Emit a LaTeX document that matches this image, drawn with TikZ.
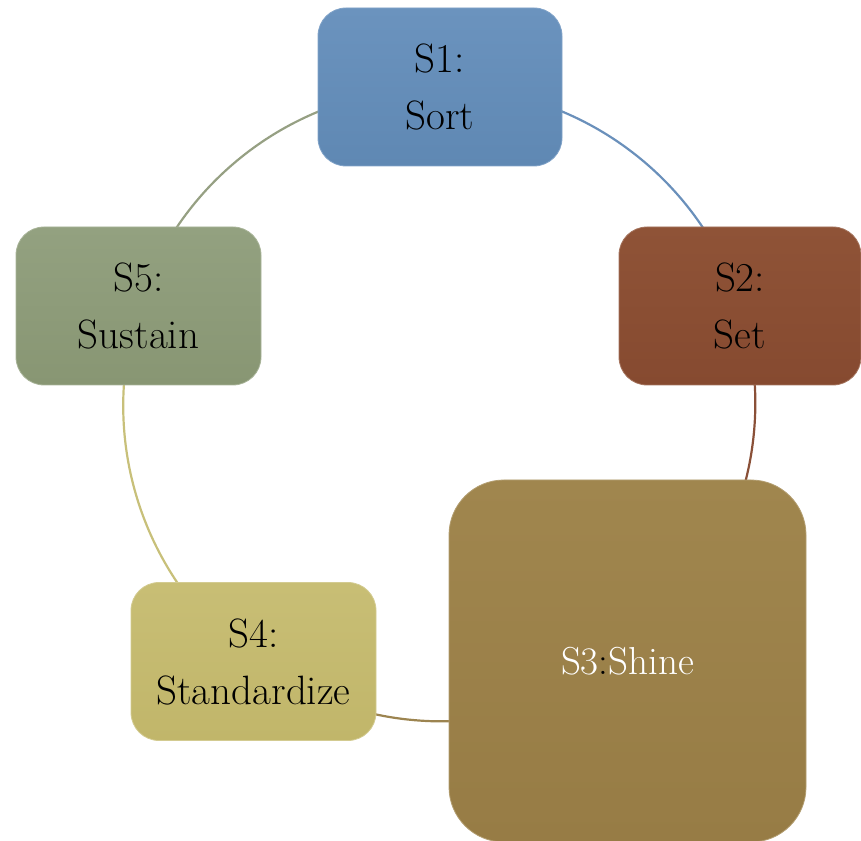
\documentclass[tikz,border=0pt]{standalone}
\usetikzlibrary{backgrounds}
\definecolor{cAa}{HTML}{6B93BE}
\definecolor{cAb}{HTML}{5F88B3}
\definecolor{cAl}{HTML}{6A90BB}
\definecolor{cBa}{HTML}{8F5337}
\definecolor{cBb}{HTML}{864A30}
\definecolor{cBl}{HTML}{8A5038}
\definecolor{cCa}{HTML}{A0864E}
\definecolor{cCb}{HTML}{977C45}
\definecolor{cCl}{HTML}{9C8450}
\definecolor{cDa}{HTML}{C8BE75}
\definecolor{cDb}{HTML}{C1B66A}
\definecolor{cDl}{HTML}{C8C07A}
\definecolor{cEa}{HTML}{93A180}
\definecolor{cEb}{HTML}{889673}
\definecolor{cEl}{HTML}{96A083}
\tikzset{
  sbox/.style={rounded corners=28pt, minimum width=244pt, minimum height=158pt,
    align=center, inner sep=0pt, font=\fontsize{41}{57}\selectfont, text=black,
    line width=0.8pt},
  ring/.style={line width=2.2pt}
}
\begin{document}
\begin{tikzpicture}[x=1pt,y=1pt]
\useasboundingbox (0,0) rectangle (861,840);
\node[sbox, top color=cAa, bottom color=cAb, draw=cAa!85!white] (S1) at (440,753) {S1:\\Sort};
\node[sbox, top color=cBa, bottom color=cBb, draw=cBa!80!white, minimum width=242pt] (S2) at (740,534) {S2:\\Set};
\node[sbox, rounded corners=55pt, minimum width=357pt, minimum height=362pt,
      top color=cCa, bottom color=cCb, draw=cCa!80!white,
      font=\fontsize{39}{44}\selectfont, text=white] (S3) at (627.5,179)
      {S3\textcolor{black}{:}Shine};
\node[sbox, top color=cDa, bottom color=cDb, draw=cDa!80!white, minimum width=245pt] (S4) at (253.5,178.5) {S4:\\Standardize};
\node[sbox, top color=cEa, bottom color=cEb, draw=cEa!80!white, minimum width=245pt] (S5) at (138.5,534) {S5:\\Sustain};
\begin{scope}[on background layer]
\draw[ring, cAl] (S1.center) arc[start angle=90, end angle=17.9, radius=316];
\draw[ring, cBl] (S2.center) arc[start angle=17.9, end angle=-54, radius=316];
\draw[ring, cCl] (S3.center) arc[start angle=-54, end angle=-126, radius=316];
\draw[ring, cDl] (S4.center) arc[start angle=-126, end angle=-198, radius=316];
\draw[ring, cEl] (S5.center) arc[start angle=162, end angle=90, radius=316];
\end{scope}
\end{tikzpicture}
\end{document}
